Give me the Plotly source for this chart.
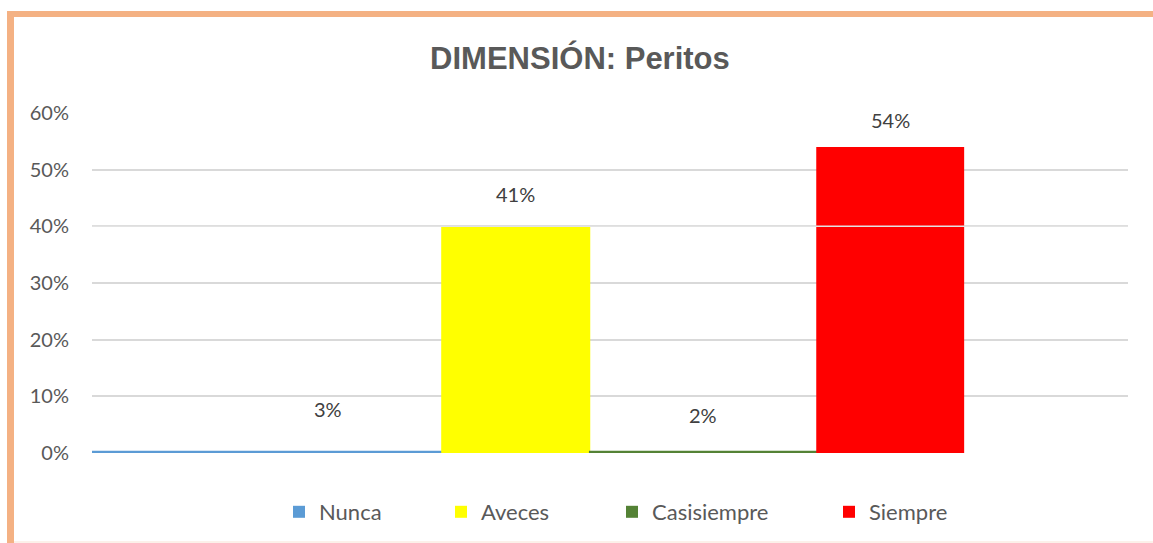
import plotly.graph_objects as go

# ---- data ----
categories = ["Nunca", "Aveces", "Casisiempre", "Siempre"]
bar_values = [0.004, 0.40, 0.004, 0.54]          # heights as drawn in the picture
label_values = [0.03, 0.41, 0.02, 0.54]          # values shown by the data labels
label_texts = ["3%", "41%", "2%", "54%"]
colors = ["#5B9BD5", "#FFFF00", "#548235", "#FF0000"]
y_ticks = [0, 0.1, 0.2, 0.3, 0.4, 0.5, 0.6]
y_tick_labels = ["0%", "10%", "20%", "30%", "40%", "50%", "60%"]

# ---- styling ----
bar_widths = [1.87, 0.796, 1.218, 0.79]
bar_offsets = [-1.263, None, None, None]
legend_square_px = [293, 455, 626, 843]

W, H = 1153, 543
ML, MR, MT, MB = 92, 25, 113, 90
PW, PH = W - ML - MR, H - MT - MB

def px_x(p):
    return (p - ML) / PW

def px_y(p):
    return (H - MB - p) / PH

legend_names = ["legend", "legend2", "legend3", "legend4"]

fig = go.Figure()
for i, cat in enumerate(categories):
    kw = dict(width=bar_widths[i])
    if bar_offsets[i] is not None:
        kw["offset"] = bar_offsets[i]
    fig.add_trace(go.Bar(
        x=[cat], y=[bar_values[i]], name=cat, legend=legend_names[i],
        marker=dict(color=colors[i], line=dict(width=0)),
        hoverinfo="skip", **kw))

for cat, v, t in zip(categories, label_values, label_texts):
    fig.add_annotation(x=cat, y=v, text=t, showarrow=False, yanchor="middle",
                       yshift=27, font=dict(family="Lato", size=20, color="#404040"))

# gridline drawn over bars (as seen on the red bar)
fig.add_shape(type="line", xref="paper", yref="y", x0=0, x1=1, y0=0.4, y1=0.4,
              line=dict(color="#E3E3E3", width=1.5), layer="above")

# orange frame
frame = "#F4B183"
fig.add_shape(type="rect", xref="paper", yref="paper",
              x0=px_x(7), x1=px_x(W + 5), y0=px_y(17), y1=px_y(11),
              fillcolor=frame, line=dict(width=0), layer="above")
fig.add_shape(type="rect", xref="paper", yref="paper",
              x0=px_x(7), x1=px_x(14), y0=px_y(H + 5), y1=px_y(11),
              fillcolor=frame, line=dict(width=0), layer="above")
fig.add_shape(type="rect", xref="paper", yref="paper",
              x0=px_x(14), x1=px_x(W + 5), y0=px_y(H + 5), y1=px_y(541),
              fillcolor="#FCF1EA", line=dict(width=0), layer="above")

legend_layout = {}
for name, sq in zip(legend_names, legend_square_px):
    legend_layout[name] = dict(
        orientation="h", x=px_x(sq - 14), xanchor="left",
        y=-59 / PH, yanchor="middle",
        font=dict(family="Lato", size=22, color="#595959"),
        bgcolor="rgba(0,0,0,0)")

fig.update_layout(
    width=W, height=H,
    margin=dict(l=ML, r=MR, t=MT, b=MB, autoexpand=False),
    paper_bgcolor="white", plot_bgcolor="white",
    barmode="overlay",
    title=dict(text="<b>DIMENSIÓN: Peritos</b>", x=0.503, xanchor="center",
               y=1 - 58 / H, yanchor="middle",
               font=dict(family="Liberation Sans", size=31, color="#595959")),
    xaxis=dict(type="category", range=[-1.263, 4.27], showticklabels=False,
               showgrid=False, zeroline=False, showline=False, fixedrange=True),
    yaxis=dict(range=[0, 0.6], tickvals=y_ticks, ticktext=y_tick_labels,
               showgrid=True, gridcolor="#D9D9D9", gridwidth=1.5,
               zeroline=False, showline=False, ticklabelstandoff=22,
               tickfont=dict(family="Lato", size=20, color="#595959")),
    showlegend=True,
    **legend_layout,
)

fig.write_html("out.html", config={"displayModeBar": False},
               post_script="document.body.style.margin='0';document.body.style.overflow='hidden';")
